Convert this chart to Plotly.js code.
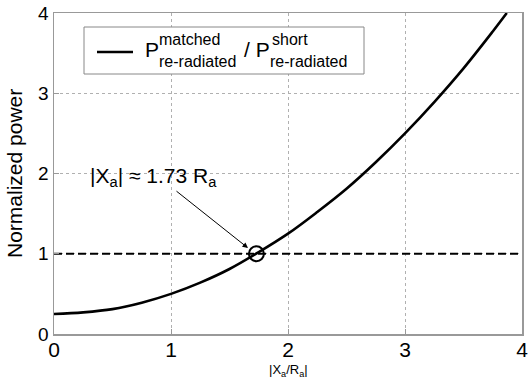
<!DOCTYPE html>
<html>
<head>
<meta charset="utf-8">
<script src="https://cdn.plot.ly/plotly-3.0.1.min.js"></script>
<style>html,body{margin:0;padding:0;background:#fff;}#chart{width:528px;height:381px;}</style>
</head>
<body>
<div id="chart"></div>
<script>
// Data
const ratioX = [0, 0.25, 0.5, 0.75, 1, 1.25, 1.5, 1.75, 2, 2.25, 2.5, 2.75, 3, 3.25, 3.5, 3.75, 3.87];
const ratioY = [0.25, 0.27, 0.31, 0.39, 0.50, 0.64, 0.81, 1.02, 1.25, 1.52, 1.81, 2.14, 2.50, 2.89, 3.31, 3.77, 4.0];
const refX = [0, 4];
const refY = [1, 1];
const crossX = [1.73];
const crossY = [1];
const tickVals = [0, 1, 2, 3, 4];
const tickText = ['0', '1', '2', '3', '4'];
const yTitle = 'Normalized power';
const xTitle = '|X<sub>a</sub>/R<sub>a</sub>|';
const noteText = '|X<sub>a</sub>| \u2248 1.73 R<sub>a</sub>';
const legendParts = ['P', 'matched', 're-radiated', '/ P', 'short', 're-radiated'];

// plot area in pixels
const L = 54, R = 522, T = 13, B = 334, W = 528, H = 381;
const px = v => (v - L) / (R - L);
const py = v => (B - v) / (B - T);
const FONT = 'Liberation Sans, Arial, sans-serif';

const traces = [
  {x: ratioX, y: ratioY, mode: 'lines', line: {color: '#000', width: 2.6, shape: 'spline'}, hoverinfo: 'skip'},
  {x: refX, y: refY, mode: 'lines', line: {color: '#000', width: 2, dash: '8px,4px'}, hoverinfo: 'skip'},
  {x: crossX, y: crossY, mode: 'markers', marker: {symbol: 'circle-open', size: 15, color: '#000', line: {width: 2, color: '#000'}}, hoverinfo: 'skip'}
];

function txt(text, x, y, size, xanchor, extra) {
  return Object.assign({text: text, xref: 'paper', yref: 'paper', x: px(x), y: py(y), xanchor: xanchor || 'left', yanchor: 'middle',
    showarrow: false, font: {family: FONT, size: size, color: '#000'}}, extra || {});
}

const annotations = [
  txt(legendParts[0], 143, 49, 21),
  txt(legendParts[1], 157, 39, 16),
  txt(legendParts[2], 157, 61, 16),
  txt(legendParts[3], 242, 49, 21),
  txt(legendParts[4], 270, 39, 16),
  txt(legendParts[5], 268, 61, 16),
  txt(noteText, 88, 177, 21),
  txt(xTitle, 288, 371, 13, 'center'),
  txt(yTitle, 15, 174, 21, 'center', {textangle: -90}),
  {text: '', xref: 'paper', yref: 'paper', x: px(248), y: py(248), ax: 175 - 248, ay: 190 - 248,
   showarrow: true, arrowhead: 2, arrowsize: 1.1, arrowwidth: 1, arrowcolor: '#000'}
];

const shapes = [
  {type: 'rect', xref: 'paper', yref: 'paper', x0: px(84), x1: px(364), y0: py(27), y1: py(74),
   line: {color: '#888', width: 1}, fillcolor: '#fff', layer: 'above'},
  {type: 'line', xref: 'paper', yref: 'paper', x0: px(97), x1: px(133), y0: py(52), y1: py(52),
   line: {color: '#000', width: 2.6}, layer: 'above'}
];

const axisCommon = {
  range: [0, 4], tickvals: tickVals, ticktext: tickText, showgrid: true, gridcolor: '#b0b0b0', griddash: 'dot', gridwidth: 1,
  zeroline: false, showline: true, mirror: true, linecolor: '#999', linewidth: 1.5,
  ticks: 'inside', ticklen: 5, tickcolor: '#999', fixedrange: true, ticklabeloverflow: 'allow'
};

const layout = {
  width: W, height: H, margin: {l: L, r: W - R, t: T, b: H - B, pad: 0},
  paper_bgcolor: '#fff', plot_bgcolor: '#fff', showlegend: false,
  xaxis: Object.assign({}, axisCommon, {tickfont: {family: FONT, size: 21, color: '#000'}, ticklabelstandoff: -4}),
  yaxis: Object.assign({}, axisCommon, {tickfont: {family: FONT, size: 19, color: '#000'}}),
  annotations: annotations, shapes: shapes
};

Plotly.newPlot('chart', traces, layout, {displayModeBar: false, staticPlot: true});
</script>
</body>
</html>
